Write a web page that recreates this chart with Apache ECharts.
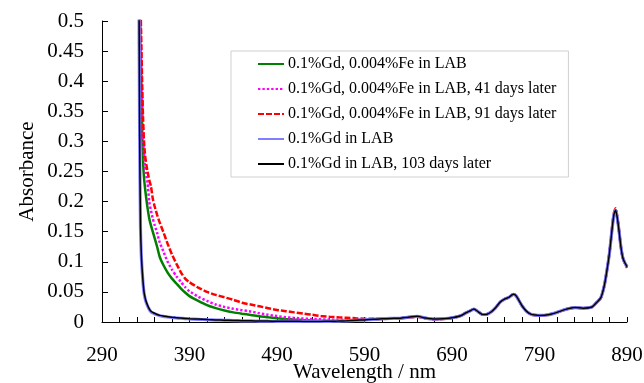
<!DOCTYPE html>
<html><head><meta charset="utf-8">
<script src="https://cdn.jsdelivr.net/npm/echarts@6/dist/echarts.min.js"></script>
<style>html,body{margin:0;padding:0;background:#fff}#c{width:644px;height:383px}</style>
</head><body><div id="c"></div>
<script>
// ---- data (wavelength in nm, absorbance) ----
const xStart = 290;
const xEnd = 890;
const xTickLabels = ['290', '390', '490', '590', '690', '790', '890'];
const seriesNames = [
  '0.1%Gd, 0.004%Fe in LAB',
  '0.1%Gd, 0.004%Fe in LAB, 41 days later',
  '0.1%Gd, 0.004%Fe in LAB, 91 days later',
  '0.1%Gd in LAB',
  '0.1%Gd in LAB, 103 days later'
];
const wlHead = [329, 331, 332, 333, 334, 335, 336, 337, 338, 339, 340, 342, 344, 346, 348, 350, 353, 356, 360, 365, 370, 375, 380, 385, 390, 400, 410, 420, 430, 440, 450, 460, 470, 480, 490, 500, 510, 520, 530, 540, 550, 560, 570, 580, 590, 600];
const greenHead = [0.9, 0.75, 0.62, 0.52, 0.45, 0.38, 0.31, 0.265, 0.24, 0.225, 0.212, 0.19, 0.172, 0.16, 0.15, 0.14, 0.125, 0.108, 0.095, 0.082, 0.072, 0.064, 0.056, 0.049, 0.043, 0.035, 0.028, 0.023, 0.019, 0.016, 0.0138, 0.0118, 0.0095, 0.0078, 0.0062, 0.005, 0.004, 0.0032, 0.0026, 0.002, 0.0018, 0.0017, 0.002, 0.0028, 0.0035, 0.0045];
const magentaHead = [0.9, 0.75, 0.64, 0.55, 0.49, 0.42, 0.36, 0.31, 0.28, 0.26, 0.248, 0.232, 0.2, 0.185, 0.172, 0.162, 0.148, 0.132, 0.118, 0.1, 0.087, 0.076, 0.067, 0.058, 0.051, 0.042, 0.035, 0.029, 0.025, 0.022, 0.0195, 0.0175, 0.0145, 0.012, 0.0098, 0.008, 0.0068, 0.0058, 0.005, 0.0045, 0.004, 0.0037, 0.0035, 0.0035, 0.004, 0.0048];
const redHead = [0.9, 0.78, 0.66, 0.59, 0.53, 0.46, 0.39, 0.335, 0.3, 0.28, 0.268, 0.25, 0.236, 0.225, 0.205, 0.193, 0.178, 0.165, 0.15, 0.13, 0.112, 0.097, 0.083, 0.072, 0.066, 0.057, 0.05, 0.045, 0.041, 0.037, 0.032, 0.029, 0.026, 0.023, 0.02, 0.018, 0.016, 0.014, 0.012, 0.01, 0.0088, 0.0078, 0.007, 0.0062, 0.0055, 0.0052];
const blueHead = [0.9, 0.7, 0.6, 0.31, 0.155, 0.108, 0.083, 0.063, 0.049, 0.041, 0.035, 0.027, 0.021, 0.017, 0.015, 0.0138, 0.012, 0.0105, 0.0094, 0.0084, 0.0075, 0.0068, 0.0062, 0.0057, 0.0052, 0.0045, 0.0038, 0.0032, 0.0028, 0.0024, 0.002, 0.0018, 0.0015, 0.0013, 0.0012, 0.0011, 0.001, 0.001, 0.001, 0.001, 0.0012, 0.0015, 0.002, 0.0028, 0.0035, 0.0045];
const blackHead = [0.9, 0.7, 0.62, 0.32, 0.16, 0.11, 0.085, 0.065, 0.05, 0.042, 0.036, 0.028, 0.022, 0.018, 0.016, 0.0145, 0.0125, 0.011, 0.0098, 0.0088, 0.0078, 0.007, 0.0065, 0.006, 0.0055, 0.0048, 0.004, 0.0034, 0.003, 0.0026, 0.0022, 0.002, 0.0017, 0.0015, 0.0013, 0.0012, 0.0011, 0.001, 0.001, 0.001, 0.0012, 0.0015, 0.002, 0.0028, 0.0035, 0.0045];
const wlTail = [610, 620, 630, 640, 650, 660, 670, 680, 690, 700, 705, 710, 715, 720, 725, 730, 735, 740, 745, 750, 755, 760, 763, 766, 770, 775, 780, 785, 790, 800, 810, 820, 830, 840, 850, 855, 860, 864, 867, 870, 873, 875, 877, 879, 881, 883, 885, 887, 890];
const tailAbs = [0.0055, 0.006, 0.0062, 0.008, 0.0095, 0.0065, 0.0048, 0.0055, 0.007, 0.0105, 0.0145, 0.018, 0.0215, 0.017, 0.0125, 0.013, 0.017, 0.024, 0.033, 0.038, 0.041, 0.046, 0.044, 0.037, 0.027, 0.018, 0.013, 0.0115, 0.011, 0.012, 0.016, 0.021, 0.024, 0.023, 0.025, 0.032, 0.04, 0.06, 0.085, 0.115, 0.155, 0.178, 0.186, 0.172, 0.15, 0.125, 0.108, 0.1, 0.092];
const redTailAbs = [0.005, 0.0055, 0.0058, 0.0072, 0.0088, 0.006, 0.0042, 0.005, 0.0066, 0.0102, 0.0142, 0.0178, 0.0213, 0.0168, 0.0122, 0.0128, 0.0168, 0.0238, 0.0328, 0.0378, 0.0408, 0.0462, 0.0442, 0.0368, 0.0268, 0.0178, 0.0128, 0.0112, 0.0108, 0.0118, 0.0158, 0.0208, 0.0238, 0.0228, 0.0248, 0.0318, 0.0398, 0.06, 0.086, 0.117, 0.158, 0.181, 0.189, 0.174, 0.151, 0.126, 0.108, 0.099, 0.09];

const seriesColors = ['#008000', '#ff00ff', '#ff0000', '#8080ff', '#000000'];
const seriesWidths = [2.5, 2.5, 2.5, 3.2, 1.5];
const seriesDash = ['solid', [2.4, 2], [6, 2], 'solid', 'solid'];
const heads = [greenHead, magentaHead, redHead, blueHead, blackHead];
const tails = [tailAbs, tailAbs, redTailAbs, tailAbs, tailAbs];

const wl = wlHead.concat(wlTail);
const FONT = 'Liberation Serif';

const series = heads.map((h, k) => {
  const vals = h.concat(tails[k]);
  return {
    name: seriesNames[k],
    type: 'line',
    symbol: 'none',
    smooth: 0.2,
    clip: true,
    data: wl.map((w, i) => [w - xStart, vals[i]]),
    lineStyle: { color: seriesColors[k], width: seriesWidths[k], type: seriesDash[k] },
    itemStyle: { color: seriesColors[k] },
    emphasis: { disabled: true },
    z: 2 + k
  };
});

const chart = echarts.init(document.getElementById('c'), null, { renderer: 'canvas' });
chart.setOption({
  animation: false,
  backgroundColor: '#fff',
  grid: { left: 102, right: 17, top: 21, bottom: 61, containLabel: false, outerBoundsMode: 'none' },
  legend: {
    orient: 'vertical',
    left: 231, top: 51,
    padding: [5, 12, 5, 26],
    itemGap: 9,
    itemWidth: 26, itemHeight: 14,
    borderColor: '#d0d0d0', borderWidth: 1,
    backgroundColor: '#fff',
    itemStyle: { opacity: 0, color: 'transparent', borderWidth: 0 },
    textStyle: { fontFamily: FONT, fontSize: 16, color: '#000', lineHeight: 16, padding: [0, 0, 0, -1] },
    data: seriesNames
  },
  xAxis: {
    type: 'value', min: 0, max: xEnd - xStart, interval: 20,
    name: 'Wavelength / nm', nameLocation: 'middle', nameGap: 40, nameMoveOverlap: false,
    nameTextStyle: { fontFamily: FONT, fontSize: 21, color: '#000', verticalAlign: 'top' },
    axisLine: { show: true, onZero: false, lineStyle: { color: '#000', width: 1 } },
    axisTick: { show: true, inside: true, length: 5, lineStyle: { color: '#000' } },
    axisLabel: {
      fontFamily: FONT, fontSize: 21, color: '#000', margin: 23,
      formatter: v => (v % 100 === 0 ? xTickLabels[v / 100] : '')
    },
    splitLine: { show: false }
  },
  yAxis: {
    type: 'value', min: 0, max: 0.5, interval: 0.05,
    name: 'Absorbance', nameLocation: 'middle', nameGap: 64, nameRotate: 90, nameMoveOverlap: false,
    nameTextStyle: { fontFamily: FONT, fontSize: 21, color: '#000' },
    axisLine: { show: true, lineStyle: { color: '#000', width: 1 } },
    axisTick: { show: true, inside: true, length: 6, lineStyle: { color: '#000' } },
    axisLabel: { fontFamily: FONT, fontSize: 21, color: '#000', margin: 18 },
    splitLine: { show: false }
  },
  series: series
});
</script></body></html>
